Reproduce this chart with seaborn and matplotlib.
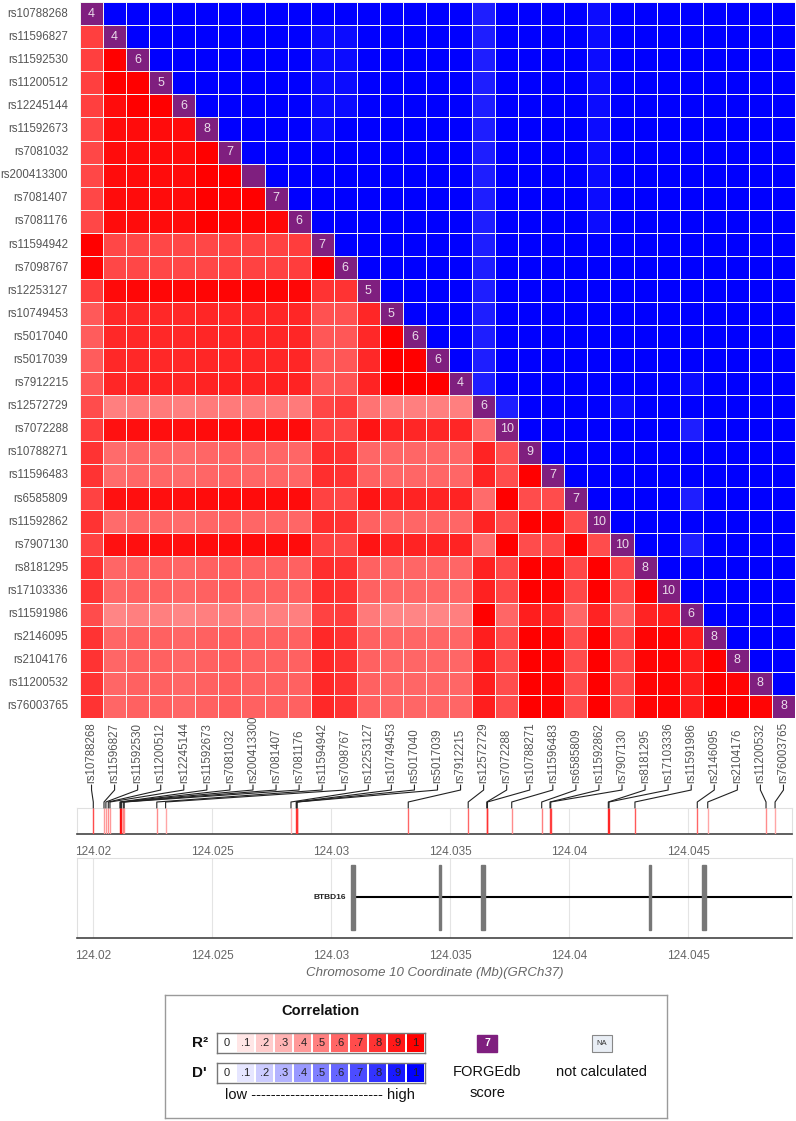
import numpy as np
import pandas as pd
import matplotlib
matplotlib.use("Agg")
import matplotlib.pyplot as plt
import matplotlib.transforms as mtransforms
from matplotlib.colors import LinearSegmentedColormap, ListedColormap
from matplotlib.lines import Line2D
from matplotlib.patches import Rectangle
import seaborn as sns

sns.set_style("white")
plt.rcParams['font.family'] = ['Liberation Sans', 'DejaVu Sans']

snps = ['rs10788268', 'rs11596827', 'rs11592530', 'rs11200512', 'rs12245144',
        'rs11592673', 'rs7081032', 'rs200413300', 'rs7081407', 'rs7081176',
        'rs11594942', 'rs7098767', 'rs12253127', 'rs10749453', 'rs5017040',
        'rs5017039', 'rs7912215', 'rs12572729', 'rs7072288', 'rs10788271',
        'rs11596483', 'rs6585809', 'rs11592862', 'rs7907130', 'rs8181295',
        'rs17103336', 'rs11591986', 'rs2146095', 'rs2104176', 'rs11200532',
        'rs76003765']

# FORGEdb score on the diagonal (None = no score shown)
forgedb_scores = [4, 4, 6, 5, 6, 8, 7, None, 7, 6, 7, 6, 5, 5, 6, 6, 4, 6, 10, 9,
                  7, 7, 10, 10, 8, 10, 6, 8, 8, 8, 8]

# SNP positions, chr10 Mb (GRCh37)
snp_pos_mb = [124.02000, 124.02045, 124.02053, 124.02063, 124.02070, 124.02112,
              124.02115, 124.02118, 124.02126, 124.02130, 124.02267, 124.02304,
              124.02831, 124.02853, 124.02855, 124.02857, 124.03324, 124.03576,
              124.03654, 124.03657, 124.03759, 124.03885, 124.03920, 124.03923,
              124.04165, 124.04168, 124.04277, 124.04539, 124.04583, 124.04828,
              124.04866]
# shade of each SNP tick in the position track
snp_track_r2 = [0.7, 0.4, 0.4, 0.45, 0.4, 0.95, 0.95, 0.9, 0.5, 0.45, 0.45, 0.35,
                0.3, 0.8, 0.8, 0.8, 0.6, 0.6, 0.8, 0.8, 0.45, 0.5, 0.75, 0.75,
                0.85, 0.85, 0.65, 0.6, 0.35, 0.45, 0.35]

# R2 (percent), lower triangle, row by row
r2_rows = [
    [],
    [75],
    [75, 100],
    [75, 100, 100],
    [75, 95, 100, 100],
    [72, 95, 95, 95, 95],
    [72, 95, 95, 95, 95, 100],
    [72, 95, 95, 95, 95, 100, 100],
    [72, 95, 95, 95, 95, 100, 98, 100],
    [72, 95, 95, 95, 95, 100, 98, 98, 97],
    [100, 72, 72, 72, 72, 72, 74, 74, 74, 76],
    [98, 72, 72, 72, 72, 72, 74, 74, 74, 76, 100],
    [76, 96, 97, 97, 97, 98, 98, 98, 98, 97, 80, 80],
    [65, 84, 84, 84, 84, 85, 85, 85, 85, 85, 68, 68, 85],
    [64, 84, 84, 84, 84, 85, 85, 85, 85, 85, 66, 66, 84, 100],
    [64, 84, 84, 84, 84, 85, 85, 85, 85, 85, 66, 66, 84, 100, 100],
    [66, 85, 86, 86, 85, 86, 87, 86, 87, 86, 66, 67, 86, 100, 100, 100],
    [70, 50, 52, 52, 50, 52, 52, 52, 52, 52, 72, 76, 55, 50, 50, 50, 50],
    [76, 93, 94, 94, 94, 95, 95, 95, 95, 95, 75, 73, 92, 86, 85, 85, 85, 58],
    [80, 58, 60, 60, 58, 60, 62, 60, 60, 60, 82, 80, 60, 60, 60, 60, 60, 86, 68],
    [80, 58, 60, 60, 58, 60, 62, 60, 60, 60, 82, 80, 62, 60, 60, 60, 60, 86, 70, 100],
    [74, 93, 94, 94, 94, 95, 95, 95, 95, 95, 74, 72, 92, 86, 86, 86, 86, 58, 100, 70, 70],
    [80, 58, 60, 60, 58, 60, 62, 60, 60, 60, 82, 80, 62, 60, 60, 60, 60, 86, 70, 100, 98, 70],
    [74, 93, 94, 94, 94, 95, 95, 95, 95, 95, 74, 72, 92, 86, 86, 86, 86, 58, 100, 70, 72, 100, 70],
    [80, 60, 62, 62, 60, 62, 64, 62, 62, 62, 82, 80, 62, 60, 60, 60, 60, 87, 72, 100, 98, 72, 100, 72],
    [80, 60, 62, 62, 60, 62, 64, 62, 62, 62, 82, 80, 62, 60, 60, 60, 60, 87, 72, 100, 98, 72, 100, 72, 100],
    [70, 48, 50, 50, 48, 50, 52, 50, 50, 50, 74, 76, 52, 48, 48, 48, 50, 100, 60, 88, 85, 60, 86, 62, 86, 88],
    [80, 60, 62, 62, 60, 62, 64, 62, 62, 62, 84, 80, 62, 60, 60, 60, 60, 88, 70, 100, 98, 70, 100, 72, 98, 98, 88],
    [80, 60, 62, 62, 60, 62, 64, 62, 62, 62, 84, 80, 62, 60, 60, 60, 60, 88, 70, 100, 98, 70, 100, 72, 98, 98, 88, 100],
    [80, 60, 62, 62, 60, 62, 64, 62, 62, 62, 84, 80, 62, 60, 60, 60, 60, 88, 70, 100, 98, 70, 100, 72, 98, 98, 88, 100, 98],
    [80, 60, 62, 62, 60, 62, 64, 62, 62, 62, 84, 80, 62, 60, 60, 60, 60, 88, 70, 100, 98, 70, 100, 72, 98, 98, 88, 100, 100, 98],
]

# D' upper triangle, row by row (X = 1.00, h = 0.95, m = 0.88)
dprime_codes = {'X': 1.0, 'h': 0.95, 'm': 0.88}
dprime_rows = [
    "XXXXXXXXXXXXXXXXmXXXXhXXXXXXXX",
    "XXXXXXXXhhXXXXXmXXXXhXXXXXXXX",
    "XXXXXXXhhXXXXXmXXXXhXXXXXXXX",
    "XXXXXXhhXXXXXmXXXXhXXXXXXXX",
    "XXXXXhhXXXXXmXXXXhXXXXXXXX",
    "XXXXhXXXXXXmXXXXhXXXXXXXX",
    "XXXXXXXXXXmXXXXhXXXXXXXX",
    "XXXXXXXXXmXXXXhXXXXXXXX",
    "XXXXXXXXmXXXXhXXXXXXXX",
    "XXXXXXXmXXXXhXXXXXXXX",
    "XXXXXXmXXXXXXXXXXXXX",
    "XXXXXmXXXXXXXXXXXXX",
    "XXXXmXXXXXXXXXXXXX",
    "XXXmXXXXXXXXXXXXX",
    "XXmXXXXXXXXXXXXX",
    "XmXXXXXXXXXXXXX",
    "mXXXXXXXXhXXXX",
    "mXXXXhXXXXXXX",
    "XXXXXXXmXXXX",
    "XXXXXXXXXXX",
    "XXXXXXXXXX",
    "XXXXmXXXX",
    "XXXXXXXX",
    "XXmXXXX",
    "XXXXXX",
    "XXXXX",
    "XXXX",
    "XXX",
    "XX",
    "X",
    "",
]

# BTBD16 gene model
gene_name = 'BTBD16'
gene_start_mb = 124.03092
gene_end_mb = 124.0500
exon_pos_mb = [124.03092, 124.03457, 124.03639, 124.04340, 124.04567]
exon_width_mb = [0.00017, 0.00008, 0.00017, 0.00008, 0.00017]

track_xlim = (124.019315, 124.049372)
major_ticks = [124.02, 124.025, 124.03, 124.035, 124.04, 124.045]
major_labels = ['124.02', '124.025', '124.03', '124.035', '124.04', '124.045']
minor_ticks = [124.019 + 0.001 * k for k in range(1, 31)]

legend_levels = [0, .1, .2, .3, .4, .5, .6, .7, .8, .9, 1]
legend_level_labels = ['0', '.1', '.2', '.3', '.4', '.5', '.6', '.7', '.8', '.9', '1']

# ---------------------------------------------------------------- matrices
n = len(snps)
r2 = np.full((n, n), np.nan)
for i, row in enumerate(r2_rows):
    if row:
        r2[i, :len(row)] = np.array(row) / 100.0
dp = np.full((n, n), np.nan)
for i, row in enumerate(dprime_rows):
    vals = [dprime_codes[c] for c in row]
    if vals:
        dp[i, i + 1:] = vals
diag = np.full((n, n), np.nan)
np.fill_diagonal(diag, 1.0)
annot = np.full((n, n), '', dtype=object)
for i, s in enumerate(forgedb_scores):
    annot[i, i] = '' if s is None else str(s)

r2_df = pd.DataFrame(r2, index=snps, columns=snps)
dp_df = pd.DataFrame(dp, index=snps, columns=snps)
diag_df = pd.DataFrame(diag, index=snps, columns=snps)

red_cmap = LinearSegmentedColormap.from_list('r2', ['#ffffff', '#ff0000'])
blue_cmap = LinearSegmentedColormap.from_list('dp', ['#ffffff', '#0000ff'])
purple = '#7f1f7f'

W, H = 796, 1121
fig = plt.figure(figsize=(W / 100, H / 100), dpi=100)


def fax(x0, y0, x1, y1):
    return fig.add_axes([x0 / W, 1 - y1 / H, (x1 - x0) / W, (y1 - y0) / H])


ax = fax(80, 2, 795, 718)
common = dict(cbar=False, linewidths=0.45, linecolor='#f2f2f2', ax=ax,
              xticklabels=False, yticklabels=snps, vmin=0, vmax=1)
sns.heatmap(r2_df, mask=r2_df.isna(), cmap=red_cmap, **common)
sns.heatmap(dp_df, mask=dp_df.isna(), cmap=blue_cmap, **common)
sns.heatmap(diag_df, mask=diag_df.isna(), cmap=ListedColormap([purple]),
            annot=annot, fmt='', annot_kws={'color': '#eadcea', 'fontsize': 9},
            **common)
ax.set_xlabel('')
ax.set_ylabel('')
ax.tick_params(axis='y', length=0, pad=8.5, labelsize=8.3, labelcolor='#555555',
               labelrotation=0)

# ---------------------------------------------------------------- SNP track
ax_snp = fax(77, 808, 792, 834)
ax_snp.set_xlim(*track_xlim)
ax_snp.set_ylim(0, 1)
ax_snp.vlines(snp_pos_mb, 0, 1, colors=[red_cmap(v) for v in snp_track_r2], lw=1.0, zorder=3)

ax_gene = fax(77, 858, 792, 938)
ax_gene.set_xlim(*track_xlim)
ax_gene.set_ylim(0, 1)
ax_gene.hlines(0.51, gene_start_mb, gene_end_mb, color='black', lw=1.5, zorder=3)
for p, w in zip(exon_pos_mb, exon_width_mb):
    ax_gene.add_patch(Rectangle((p - w / 2, 0.1), w, 0.81, color='#777777', zorder=4))
ax_gene.annotate(gene_name, (gene_start_mb, 0.51), xytext=(-5, 0), textcoords='offset points',
                 ha='right', va='center', fontsize=6, fontweight='bold', color='#222222')
ax_gene.set_xlabel('Chromosome 10 Coordinate (Mb)(GRCh37)', style='italic',
                   color='#666666', fontsize=9.5, labelpad=4)

for a in (ax_snp, ax_gene):
    a.set_yticks([])
    a.set_xticks(major_ticks)
    a.set_xticklabels(major_labels)
    a.set_xticks(minor_ticks, minor=True)
    a.tick_params(axis='x', which='major', direction='inout', length=9, width=1.2,
                  color='#444444', labelsize=8.5, labelcolor='#666666', pad=4)
    a.tick_params(axis='x', which='minor', direction='inout', length=5, width=1,
                  color='#444444')
    a.grid(axis='x', which='major', color='#e4e4e4', lw=0.8, zorder=0)
    for side in ('top', 'left', 'right'):
        a.spines[side].set_visible(True)
        a.spines[side].set_color('#e0e0e0')
    a.spines['bottom'].set_color('#444444')
    a.spines['bottom'].set_linewidth(1.2)

# ---------------------------------------------------------------- labels + connectors
lab_tr = mtransforms.blended_transform_factory(ax.transData, fig.transFigure)
inv = fig.transFigure.inverted()
y_lab = 1 - 783 / H
ys = [1 - 785 / H, 1 - 790 / H, 1 - 802 / H, 1 - 808 / H]
for i, (name, pos) in enumerate(zip(snps, snp_pos_mb)):
    ax.text(i + 0.5, y_lab, name, transform=lab_tr, rotation=90, ha='center',
            va='bottom', fontsize=8.3, color='#555555')
    xa = inv.transform(ax.transData.transform((i + 0.5, 0)))[0]
    xb = inv.transform(ax_snp.transData.transform((pos, 0)))[0]
    fig.add_artist(Line2D([xa, xa, xb, xb], ys, transform=fig.transFigure,
                          color='#222222', lw=0.8))

# ---------------------------------------------------------------- legend
ax_leg = fax(165, 995, 667, 1118)
ax_leg.set_xlim(165, 667)
ax_leg.set_ylim(1118, 995)
ax_leg.set_xticks([])
ax_leg.set_yticks([])
for s in ax_leg.spines.values():
    s.set_visible(True)
    s.set_color('#9a9a9a')
    s.set_linewidth(1.0)
ax_leg.text(320, 1011, 'Correlation', ha='center', va='center', fontsize=10.5,
            fontweight='bold', color='#111111')
ax_leg.text(200, 1043, 'R²', ha='center', va='center', fontsize=11,
            fontweight='bold', color='#111111')
ax_leg.text(199, 1073, "D'", ha='center', va='center', fontsize=11,
            fontweight='bold', color='#111111')
ax_leg.text(320, 1095, 'low ' + '-' * 27 + ' high', ha='center', va='center',
            fontsize=10.5, color='#111111')
ax_leg.add_patch(Rectangle((477, 1035), 20, 17, color=purple))
ax_leg.text(487, 1043.5, '7', ha='center', va='center', fontsize=7.5,
            fontweight='bold', color='white')
ax_leg.text(487, 1072, 'FORGEdb', ha='center', va='center', fontsize=10.5, color='#111111')
ax_leg.text(487, 1093, 'score', ha='center', va='center', fontsize=10.5, color='#111111')
ax_leg.add_patch(Rectangle((592, 1035), 20, 17, facecolor='#e9eef5', edgecolor='#888888', lw=0.8))
ax_leg.text(602, 1043.5, 'NA', ha='center', va='center', fontsize=5.5, color='#333333')
ax_leg.text(602, 1072, 'not calculated', ha='center', va='center', fontsize=10.5, color='#111111')

lev = pd.DataFrame([legend_levels])
lev_annot = np.array([legend_level_labels], dtype=object)
for (y0, y1), cmap in (((1033, 1053), red_cmap), ((1063, 1083), blue_cmap)):
    axb = fax(217, y0, 425, y1)
    sns.heatmap(lev, cmap=cmap, vmin=0, vmax=1, cbar=False, annot=lev_annot, fmt='',
                annot_kws={'color': '#222222', 'fontsize': 8}, linewidths=1.2,
                linecolor='white', xticklabels=False, yticklabels=False, ax=axb)
    for s in axb.spines.values():
        s.set_visible(True)
        s.set_color('#777777')
        s.set_linewidth(1.0)

fig.savefig('out.png', dpi=100)
